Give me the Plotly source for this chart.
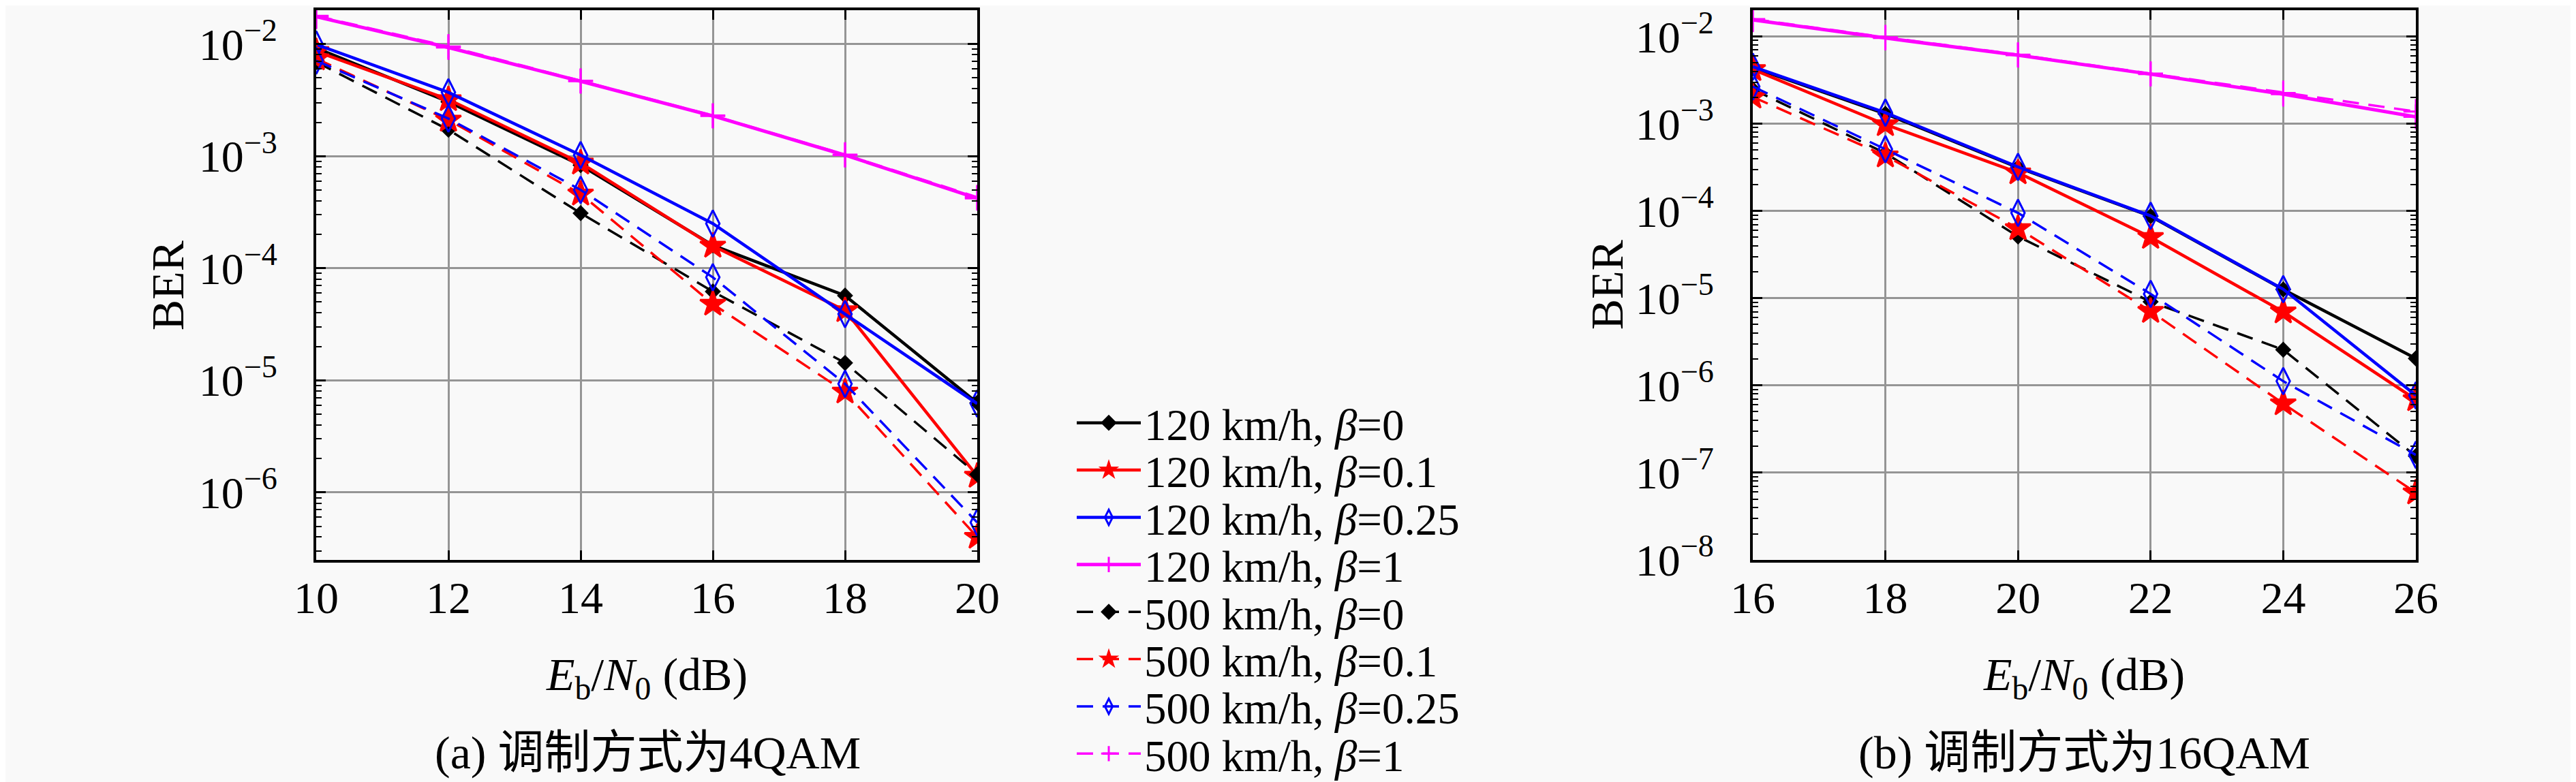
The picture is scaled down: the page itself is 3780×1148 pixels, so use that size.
import plotly.graph_objects as go
import numpy as np

# E_b/N_0 (dB) grids
snr_4qam = [10, 12, 14, 16, 18, 20]
snr_16qam = [16, 18, 20, 22, 24, 26]

# BER, 4QAM
ber4_120_b0 = [9.2e-3, 3.05e-3, 8.3e-4, 1.6e-4, 5.7e-5, 6.3e-6]
ber4_120_b01 = [8.6e-3, 3.2e-3, 8.7e-4, 1.58e-4, 4.2e-5, 1.4e-6]
ber4_120_b025 = [9.9e-3, 3.7e-3, 1.02e-3, 2.5e-4, 3.9e-5, 6.2e-6]
ber4_120_b1 = [1.75e-2, 9.3e-3, 4.65e-3, 2.28e-3, 1.02e-3, 4.2e-4]
ber4_500_b0 = [6.9e-3, 1.72e-3, 3.1e-4, 6.2e-5, 1.43e-5, 1.45e-6]
ber4_500_b01 = [7.4e-3, 2.1e-3, 4.6e-4, 4.8e-5, 7.9e-6, 4.0e-7]
ber4_500_b025 = [7.1e-3, 2.16e-3, 5.0e-4, 8.3e-5, 9.3e-6, 5.4e-7]
ber4_500_b1 = [1.78e-2, 9.5e-3, 4.7e-3, 2.3e-3, 1.03e-3, 4.3e-4]

# BER, 16QAM
ber16_120_b0 = [4.4e-3, 1.3e-3, 3.15e-4, 8.7e-5, 1.26e-5, 2.04e-6]
ber16_120_b01 = [4.2e-3, 9.8e-4, 2.75e-4, 5.0e-5, 7.0e-6, 6.9e-7]
ber16_120_b025 = [4.5e-3, 1.34e-3, 3.2e-4, 8.8e-5, 1.27e-5, 7.7e-7]
ber16_120_b1 = [1.55e-2, 9.6e-3, 6.1e-3, 3.7e-3, 2.18e-3, 1.2e-3]
ber16_500_b0 = [2.48e-3, 4.6e-4, 5.1e-5, 9.1e-6, 2.57e-6, 1.55e-7]
ber16_500_b01 = [2.03e-3, 4.3e-4, 6.3e-5, 7.1e-6, 6.2e-7, 5.9e-8]
ber16_500_b025 = [2.67e-3, 5.1e-4, 9.5e-5, 1.12e-5, 1.12e-6, 1.6e-7]
ber16_500_b1 = [1.58e-2, 9.8e-3, 6.2e-3, 3.75e-3, 2.25e-3, 1.38e-3]

names = [
    "120 km/h, <i>β</i>=0", "120 km/h, <i>β</i>=0.1",
    "120 km/h, <i>β</i>=0.25", "120 km/h, <i>β</i>=1",
    "500 km/h, <i>β</i>=0", "500 km/h, <i>β</i>=0.1",
    "500 km/h, <i>β</i>=0.25", "500 km/h, <i>β</i>=1",
]
series_4qam = [ber4_120_b0, ber4_120_b01, ber4_120_b025, ber4_120_b1,
               ber4_500_b0, ber4_500_b01, ber4_500_b025, ber4_500_b1]
series_16qam = [ber16_120_b0, ber16_120_b01, ber16_120_b025, ber16_120_b1,
                ber16_500_b0, ber16_500_b01, ber16_500_b025, ber16_500_b1]

colors = ["#000000", "#ff0000", "#0000ff", "#ff00ff"] * 2
symbols = ["diamond", "star", "diamond-tall-open", "cross-thin-open"] * 2
msizes = [15, 28, 28, 26] * 2
dashes = ["solid"] * 4 + ["24px,14px"] * 4

y4_ticks = [1e-6, 1e-5, 1e-4, 1e-3, 1e-2]
y4_text = ["10<sup>−6</sup>", "10<sup>−5</sup>", "10<sup>−4</sup>", "10<sup>−3</sup>", "10<sup>−2</sup>"]
y16_ticks = [1e-8, 1e-7, 1e-6, 1e-5, 1e-4, 1e-3, 1e-2]
y16_text = ["10<sup>−8</sup>", "10<sup>−7</sup>", "10<sup>−6</sup>", "10<sup>−5</sup>",
            "10<sup>−4</sup>", "10<sup>−3</sup>", "10<sup>−2</sup>"]
minor_vals = [m * 10.0 ** e for e in range(-9, -1) for m in range(2, 10)]

FONT = "Liberation Serif, Noto Sans CJK SC, serif"
BG = "#f9f9f9"
W, H = 3780, 1148

fig = go.Figure()
for i in range(8):
    lw = (5 if i % 4 == 3 else 4.5) if i < 4 else 3.5
    leg = "legend" if i == 0 else f"legend{i + 1}"
    for xs, ys, ax, show in [(snr_4qam, series_4qam[i], "x", True),
                             (snr_16qam, series_16qam[i], "x2", False)]:
        fig.add_trace(go.Scatter(
            x=xs, y=ys, name=names[i], mode="lines+markers",
            xaxis=ax, yaxis="y" if ax == "x" else "y2",
            line=dict(color=colors[i], width=lw, dash=dashes[i]),
            marker=dict(symbol=symbols[i], size=msizes[i], color=colors[i],
                        line=dict(color=colors[i], width=3)),
            showlegend=show, legendgroup=str(i), legend=leg,
        ))

y_dom = [1 - 815.5 / H, 1 - 7 / H]

axis_common = dict(
    showline=True, linecolor="black", linewidth=4, mirror="allticks",
    ticks="inside", ticklen=14, tickwidth=3, tickcolor="black",
    showgrid=True, gridcolor="#959595", gridwidth=2.5, zeroline=False,
    automargin=False, ticklabeloverflow="allow",
    tickfont=dict(family=FONT, size=66, color="black"),
)
minor_common = dict(ticks="inside", ticklen=8, tickwidth=2, tickcolor="black",
                    showgrid=False, tickmode="array", tickvals=minor_vals)

fig.update_layout(
    width=W, height=H,
    margin=dict(l=0, r=0, t=0, b=0),
    paper_bgcolor=BG, plot_bgcolor=BG,
    font=dict(family=FONT, color="black"),
    xaxis=dict(domain=[456 / W, 1426 / W], range=[10, 20], tickvals=snr_4qam,
               anchor="y", ticklabelstandoff=-5, **axis_common),
    yaxis=dict(domain=y_dom, type="log", range=[np.log10(2.5e-7), np.log10(0.02)],
               tickvals=y4_ticks, ticktext=y4_text, anchor="x", ticklabelstandoff=40,
               minor=minor_common, **axis_common),
    xaxis2=dict(domain=[2564 / W, 3537 / W], range=[16, 26], tickvals=snr_16qam,
                anchor="y2", ticklabelstandoff=-5, **axis_common),
    yaxis2=dict(domain=y_dom, type="log", range=[-8, np.log10(0.02)],
                tickvals=y16_ticks, ticktext=y16_text, anchor="x2", ticklabelstandoff=40,
                minor=minor_common, **axis_common),
)

# one legend box per entry so the row spacing matches the original
for i in range(8):
    key = "legend" if i == 0 else f"legend{i + 1}"
    fig.update_layout({key: dict(
        x=1567 / W, xanchor="left", y=1 - (614 + 69.5 * i) / H, yanchor="middle",
        bgcolor="rgba(0,0,0,0)", borderwidth=0, itemwidth=94,
        font=dict(family=FONT, size=65, color="black"),
    )})

ann = dict(xref="paper", yref="paper", showarrow=False, xanchor="center",
           yanchor="middle", font=dict(family=FONT, size=68, color="black"))
xtitle = "<i>E</i><sub>b</sub>/<i>N</i><sub>0</sub> (dB)"
fig.add_annotation(x=941 / W, y=1 - 988 / H, text=xtitle, **ann)
fig.add_annotation(x=3050 / W, y=1 - 988 / H, text=xtitle, **ann)
fig.add_annotation(x=942 / W, y=1 - 1099 / H, text="(a) 调制方式为4QAM", **ann)
fig.add_annotation(x=3050 / W, y=1 - 1099 / H, text="(b) 调制方式为16QAM", **ann)
fig.add_annotation(x=238 / W, y=1 - 411 / H, text="BER", textangle=-90, **ann)
fig.add_annotation(x=2350 / W, y=1 - 411 / H, text="BER", textangle=-90, **ann)

fig.write_html("out.html")
